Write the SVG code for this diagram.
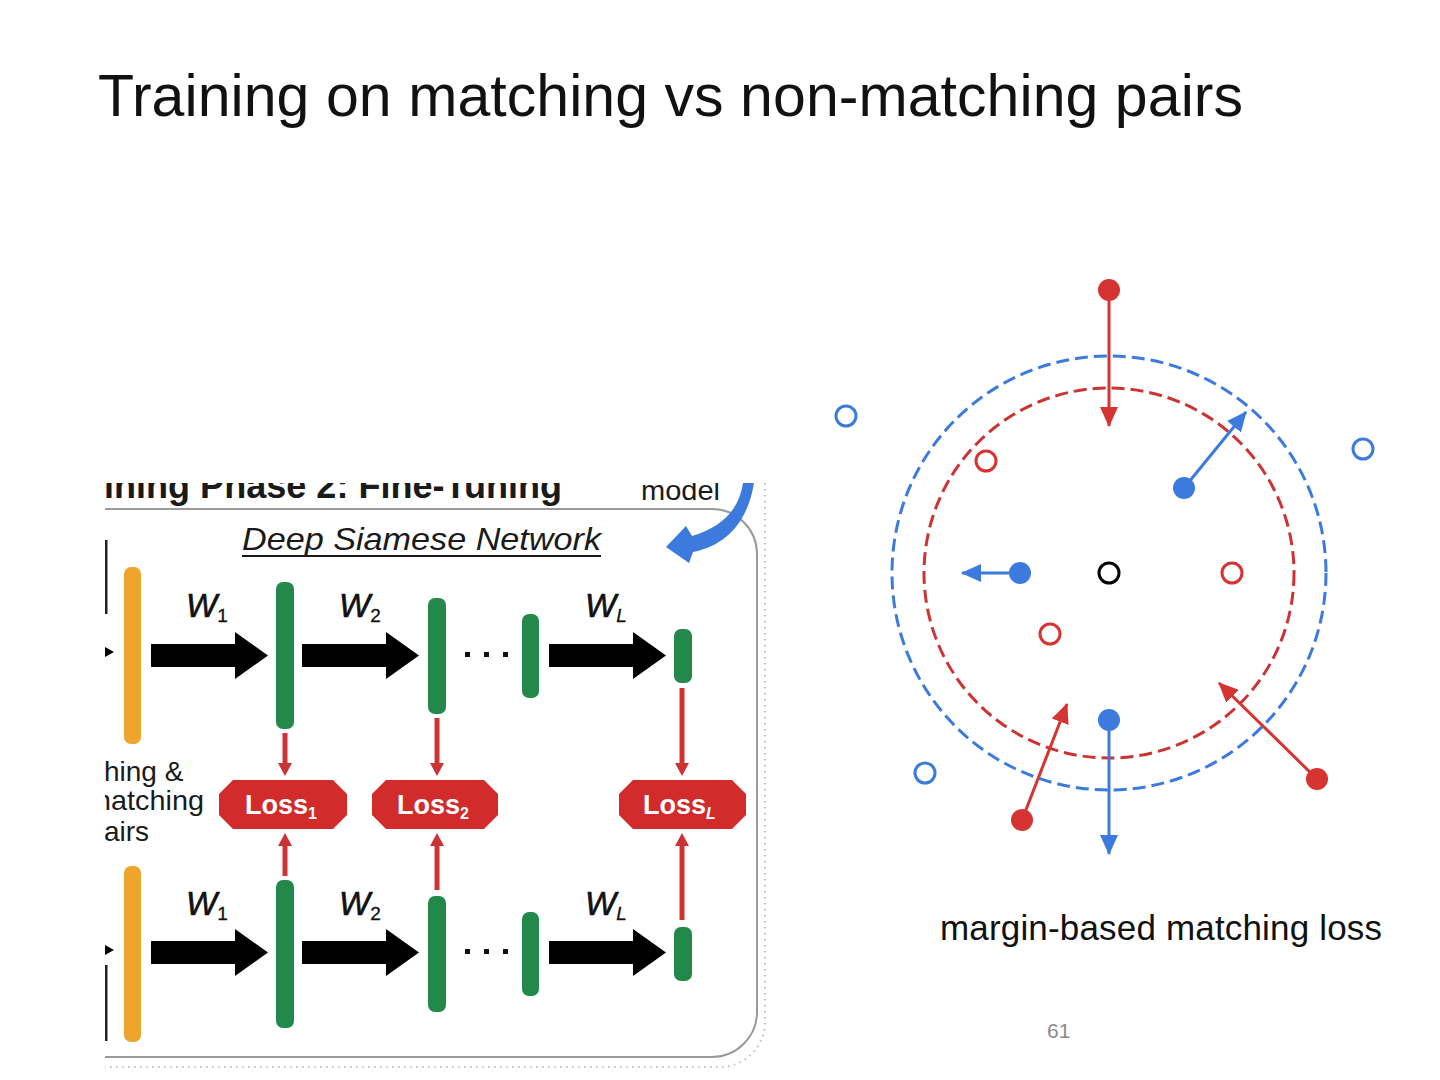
<svg xmlns="http://www.w3.org/2000/svg" width="1440" height="1080" viewBox="0 0 1440 1080">
<defs>
<style>
.title{font-family:"Liberation Sans",Arial,sans-serif;font-size:59px;fill:#111}
.cap{font-family:"Liberation Sans",Arial,sans-serif;font-size:35px;fill:#111}
.pg{font-family:"Liberation Sans",Arial,sans-serif;font-size:21px;fill:#8a8a8a}
.fig{font-family:"Liberation Sans",Arial,sans-serif;fill:#1a1a1a}
.w{font-family:"Liberation Sans",Arial,sans-serif;font-style:italic;font-size:33px;fill:#111;stroke:#111;stroke-width:0.6}
.loss{font-family:"Liberation Sans",Arial,sans-serif;font-weight:bold;font-size:27px;fill:#fff}
.orange{fill:#EFA52C}
.green{fill:#22894A}
.blk{fill:#000}
.lossbox{fill:#D22B2B}
.redl{fill:#CC3333}
.dash-b{fill:none;stroke:#3C7BDD;stroke-width:3;stroke-dasharray:13 6}
.dash-r{fill:none;stroke:#CC3333;stroke-width:3;stroke-dasharray:13 6}
.ln-r{stroke:#D63333;stroke-width:3;fill:none}
.ln-b{stroke:#3C7BDD;stroke-width:3;fill:none}
.dot-r{fill:#D63333}
.dot-b{fill:#3C7BDD}
.hol-r{fill:none;stroke:#D63333;stroke-width:3}
.hol-b{fill:none;stroke:#3C7BDD;stroke-width:3}
.hol-k{fill:none;stroke:#000;stroke-width:3}
</style>
<marker id="ahR" markerUnits="userSpaceOnUse" markerWidth="20" markerHeight="18" refX="19" refY="9" orient="auto">
<path d="M0,0 L20,9 L0,18 z" fill="#D63333"/>
</marker>
<marker id="ahB" markerUnits="userSpaceOnUse" markerWidth="20" markerHeight="18" refX="19" refY="9" orient="auto">
<path d="M0,0 L20,9 L0,18 z" fill="#3C7BDD"/>
</marker>
<clipPath id="panel"><rect x="105" y="483" width="668" height="592"/></clipPath>
<symbol id="blockArrow" overflow="visible">
<path d="M0,-11.5 L84,-11.5 L84,-23.5 L117,0 L84,23.5 L84,11.5 L0,11.5 z"/>
</symbol>
</defs>

<rect width="1440" height="1080" fill="#fff"/>

<g id="title"><text class="title" x="98" y="116" textLength="1145">Training on matching vs non-matching pairs</text></g>

<!-- Left figure (cropped) -->
<g id="siamese-figure" clip-path="url(#panel)">
  <g id="frame">
    <path d="M105,509 L712,509 A45,45 0 0 1 757,554 L757,1012 A45,45 0 0 1 712,1057 L105,1057" fill="none" stroke="#9a9a9a" stroke-width="2"/>
    <path d="M765,483 L765,1022 A45,45 0 0 1 720,1067 L105,1067" fill="none" stroke="#bdbdbd" stroke-width="2" stroke-dasharray="1.5 4.5"/>
  </g>
  <g id="header">
    <text class="fig" x="104" y="498" font-weight="bold" font-size="36" textLength="458" lengthAdjust="spacingAndGlyphs">ining Phase 2: Fine-Tuning</text>
    <text class="fig" x="641" y="500" font-size="28" textLength="79" lengthAdjust="spacingAndGlyphs">model</text>
    <path id="blue-curved-arrow" d="M743,483 C739,510 722,527 692,536 L686,526 L666,547 L689,563 L693,552 C728,545 748,520 754,483 Z" fill="#3C7BDD"/>
  </g>
  <g id="network-title">
    <text class="fig" x="242" y="550" font-style="italic" font-size="32" textLength="359" lengthAdjust="spacingAndGlyphs">Deep Siamese Network</text>
    <line x1="242" y1="556" x2="601" y2="556" stroke="#1a1a1a" stroke-width="2"/>
  </g>
  <g id="left-labels">
    <text class="fig" x="104" y="781" font-size="28">hing &amp;</text>
    <text class="fig" x="87" y="810" font-size="28" textLength="117" lengthAdjust="spacingAndGlyphs">matching</text>
    <text class="fig" x="104" y="841" font-size="28">airs</text>
    <rect x="105" y="540" width="2.5" height="74" fill="#222"/>
    <rect x="105" y="965" width="2.5" height="76" fill="#222"/>
    <path d="M103,646 L114,652 L103,658 z" fill="#000"/>
    <path d="M103,944 L114,950 L103,956 z" fill="#000"/>
  </g>

  <g id="top-branch">
    <rect class="orange" x="124" y="567" width="17" height="177" rx="7"/>
    <rect class="green" x="276" y="582" width="18" height="147" rx="7"/>
    <rect class="green" x="428" y="598" width="18" height="116" rx="7"/>
    <rect class="green" x="522" y="614" width="17" height="84" rx="7"/>
    <rect class="green" x="674" y="629" width="18" height="54" rx="7"/>
  </g>
  <g id="bottom-branch">
    <rect class="orange" x="124" y="866" width="17" height="176" rx="7"/>
    <rect class="green" x="276" y="880" width="18" height="148" rx="7"/>
    <rect class="green" x="428" y="896" width="18" height="116" rx="7"/>
    <rect class="green" x="522" y="912" width="17" height="84" rx="7"/>
    <rect class="green" x="674" y="927" width="18" height="54" rx="7"/>
  </g>

  <g id="weights">
    <text class="w" x="186" y="617">W<tspan font-size="19" dy="5" font-style="normal" stroke-width="0.3">1</tspan></text>
    <text class="w" x="339" y="617">W<tspan font-size="19" dy="5" font-style="normal" stroke-width="0.3">2</tspan></text>
    <text class="w" x="585" y="617">W<tspan font-size="19" dy="5" stroke-width="0.3">L</tspan></text>
    <text class="w" x="186" y="915">W<tspan font-size="19" dy="5" font-style="normal" stroke-width="0.3">1</tspan></text>
    <text class="w" x="339" y="915">W<tspan font-size="19" dy="5" font-style="normal" stroke-width="0.3">2</tspan></text>
    <text class="w" x="585" y="915">W<tspan font-size="19" dy="5" stroke-width="0.3">L</tspan></text>
    <g fill="#111">
      <rect x="465" y="652" width="5" height="5"/><rect x="484" y="652" width="5" height="5"/><rect x="503" y="652" width="5" height="5"/>
      <rect x="465" y="949" width="5" height="5"/><rect x="484" y="949" width="5" height="5"/><rect x="503" y="949" width="5" height="5"/>
    </g>
  </g>

  <g id="loss1">
    <path class="lossbox" d="M233,780 L333,780 L347,794 L347,815 L333,829 L233,829 L219,815 L219,794 z"/>
    <text class="loss" x="245" y="814">Loss<tspan font-size="16" dy="5">1</tspan></text>
  </g>
  <g id="loss2">
    <path class="lossbox" d="M386,780 L484,780 L498,794 L498,815 L484,829 L386,829 L372,815 L372,794 z"/>
    <text class="loss" x="397" y="814">Loss<tspan font-size="16" dy="5">2</tspan></text>
  </g>
  <g id="lossL">
    <path class="lossbox" d="M633,780 L732,780 L746,794 L746,815 L732,829 L633,829 L619,815 L619,794 z"/>
    <text class="loss" x="643" y="814">Loss<tspan font-size="16" dy="5" font-style="italic">L</tspan></text>
  </g>

  <g id="connectors-left">
    <g class="blk">
      <use href="#blockArrow" x="151" y="655.5"/>
      <use href="#blockArrow" x="302" y="655.5"/>
      <use href="#blockArrow" x="549" y="655.5"/>
      <use href="#blockArrow" x="151" y="952.5"/>
      <use href="#blockArrow" x="302" y="952.5"/>
      <use href="#blockArrow" x="549" y="952.5"/>
    </g>
    <g class="redl">
      <path d="M282.5,733 L287.5,733 L287.5,763 L292,763 L285,776 L278,763 L282.5,763 z"/>
      <path d="M434.5,718 L439.5,718 L439.5,763 L444,763 L437,776 L430,763 L434.5,763 z"/>
      <path d="M679.5,688 L684.5,688 L684.5,763 L689,763 L682,776 L675,763 L679.5,763 z"/>
      <path d="M282.5,876 L287.5,876 L287.5,846 L292,846 L285,833 L278,846 L282.5,846 z"/>
      <path d="M434.5,890 L439.5,890 L439.5,846 L444,846 L437,833 L430,846 L434.5,846 z"/>
      <path d="M679.5,920 L684.5,920 L684.5,846 L689,846 L682,833 L675,846 L679.5,846 z"/>
    </g>
  </g>
</g>

<!-- Right: margin diagram -->
<g id="margins">
  <circle class="dash-b" cx="1109" cy="573" r="217"/>
  <circle class="dash-r" cx="1109" cy="573" r="185"/>
</g>
<g id="connectors">
  <line class="ln-r" x1="1109" y1="290" x2="1109" y2="426" marker-end="url(#ahR)"/>
  <line class="ln-b" x1="1184" y1="488" x2="1246" y2="412" marker-end="url(#ahB)"/>
  <line class="ln-b" x1="1020" y1="573" x2="962" y2="573" marker-end="url(#ahB)"/>
  <line class="ln-b" x1="1109" y1="720" x2="1109" y2="854" marker-end="url(#ahB)"/>
  <line class="ln-r" x1="1022" y1="820" x2="1067" y2="704" marker-end="url(#ahR)"/>
  <line class="ln-r" x1="1317" y1="779" x2="1219" y2="683" marker-end="url(#ahR)"/>
</g>
<g id="points">
  <circle id="p-red-top" class="dot-r" cx="1109" cy="290" r="11"/>
  <circle id="p-blue-ur" class="dot-b" cx="1184" cy="488" r="11"/>
  <circle id="p-blue-left" class="dot-b" cx="1020" cy="573" r="11"/>
  <circle id="p-blue-bottom" class="dot-b" cx="1109" cy="720" r="11"/>
  <circle id="p-red-ll" class="dot-r" cx="1022" cy="820" r="11"/>
  <circle id="p-red-lr" class="dot-r" cx="1317" cy="779" r="11"/>
  <circle id="anchor" class="hol-k" cx="1109" cy="573" r="10"/>
  <circle class="hol-b" cx="846" cy="416" r="10"/>
  <circle class="hol-b" cx="1363" cy="449" r="10"/>
  <circle class="hol-b" cx="925" cy="773" r="10"/>
  <circle class="hol-r" cx="986" cy="461" r="10"/>
  <circle class="hol-r" cx="1232" cy="573" r="10"/>
  <circle class="hol-r" cx="1050" cy="634" r="10"/>
</g>

<g id="caption"><text class="cap" x="940" y="940" textLength="442">margin-based matching loss</text></g>
<g id="page-number"><text class="pg" x="1047" y="1038">61</text></g>
</svg>
